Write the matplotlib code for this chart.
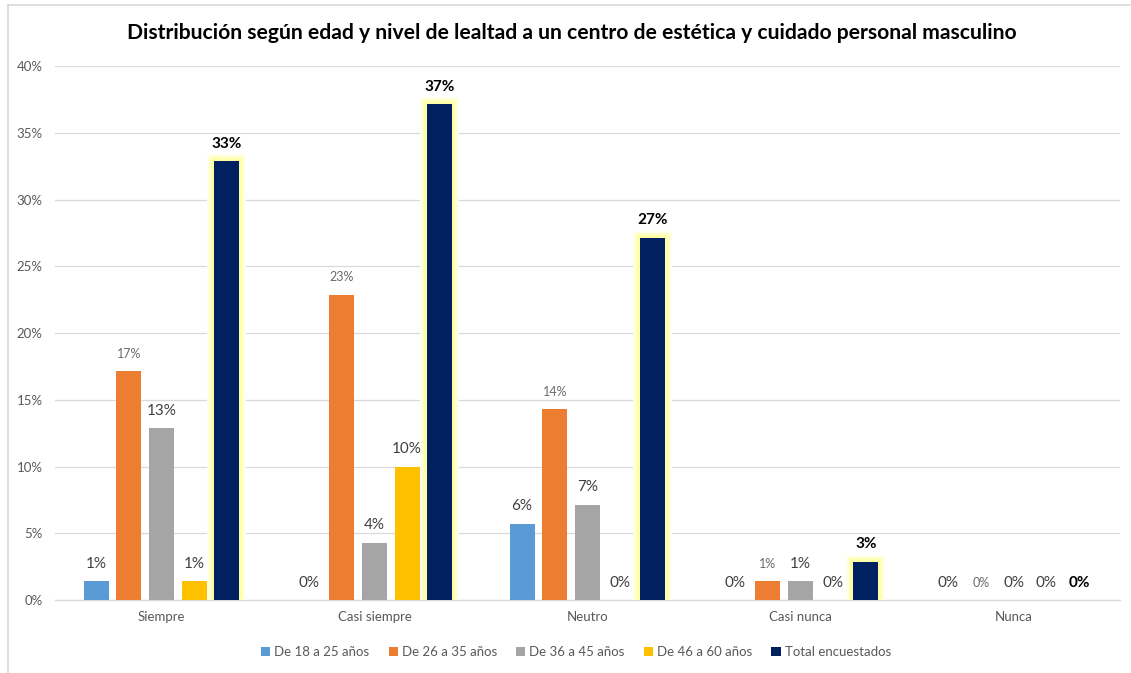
import matplotlib
matplotlib.use("Agg")
import matplotlib.pyplot as plt
import matplotlib.patheffects as pe
from matplotlib.patches import Patch
from matplotlib.lines import Line2D
import numpy as np

plt.rcParams['font.family'] = ['Lato', 'DejaVu Sans']

categories = ["Siempre", "Casi siempre", "Neutro", "Casi nunca", "Nunca"]
series_names = ["De 18 a 25 años", "De 26 a 35 años", "De 36 a 45 años",
                "De 46 a 60 años", "Total encuestados"]
age_18_25 = [0.0143, 0.0, 0.0571, 0.0, 0.0]
age_26_35 = [0.1714, 0.2286, 0.1429, 0.0143, 0.0]
age_36_45 = [0.1286, 0.0429, 0.0714, 0.0143, 0.0]
age_46_60 = [0.0143, 0.1000, 0.0, 0.0, 0.0]
total = [0.3286, 0.3714, 0.2714, 0.0286, 0.0]
y_ticks = [0, 0.05, 0.10, 0.15, 0.20, 0.25, 0.30, 0.35, 0.40]

colors = ["#5B9BD5", "#ED7D31", "#A5A5A5", "#FFC000", "#002060"]
all_series = [age_18_25, age_26_35, age_36_45, age_46_60, total]

W, H = 1131, 673
fig = plt.figure(figsize=(W / 100, H / 100), dpi=100)
ax = fig.add_axes([55 / W, 1 - 600 / H, (1120 - 55) / W, (600 - 66) / H])

x = np.arange(len(categories))
step = 0.1535
width = 0.117
offsets = (np.arange(5) - 2) * step

# soft yellow halo around the total bars
glow = [pe.withStroke(linewidth=10, foreground="#FFFFEC"),
        pe.withStroke(linewidth=7.5, foreground="#FFFFD0"),
        pe.withStroke(linewidth=4.5, foreground="#FFFFA8"),
        pe.Normal()]

for i, (vals, col) in enumerate(zip(all_series, colors)):
    bars = ax.bar(x + offsets[i], vals, width=width, color=col, zorder=3,
                  label=series_names[i])
    if i == 4:
        for b in bars:
            if b.get_height() > 0:
                b.set_path_effects(glow)
    for b, v in zip(bars, vals):
        if i == 4:
            kw = dict(fontsize=11, fontweight="bold", color="#000000")
        elif i == 1:
            kw = dict(fontsize=9, color="#6B6B6B")
        else:
            kw = dict(fontsize=11, color="#404040")
        ax.annotate(f"{v * 100:.0f}%", (b.get_x() + b.get_width() / 2, v),
                    xytext=(0, 12.5), textcoords="offset points",
                    ha="center", va="center", zorder=5, **kw)

ax.set_xlim(-0.5, len(categories) - 0.5)
ax.set_ylim(0, 0.40)
ax.set_yticks(y_ticks)
ax.set_yticklabels([f"{t * 100:.0f}%" for t in y_ticks])
ax.set_xticks(x)
ax.set_xticklabels(categories)
ax.tick_params(axis="both", length=0, labelsize=9.5, colors="#595959")
ax.tick_params(axis="y", pad=9)
ax.tick_params(axis="x", pad=8)
ax.grid(axis="y", color="#D9D9D9", linewidth=0.9, zorder=0)
ax.set_axisbelow(True)
for s in ["top", "right", "left"]:
    ax.spines[s].set_visible(False)
ax.spines["bottom"].set_color("#D9D9D9")
ax.spines["bottom"].set_linewidth(0.9)

fig.text(572 / W, 1 - 33 / H,
         "Distribución según edad y nivel de lealtad a un centro de estética y cuidado personal masculino",
         ha="center", va="center", fontsize=15.2, fontweight="bold", color="#000000")

handles = [Patch(facecolor=c, edgecolor="none") for c in colors]
leg = fig.legend(handles, series_names, loc="center", bbox_to_anchor=(576 / W, 1 - 652 / H),
                 ncol=5, frameon=False, fontsize=9.5, handlelength=0.7, handleheight=0.7,
                 handletextpad=0.3, columnspacing=1.45)
for t in leg.get_texts():
    t.set_color("#595959")

# chart frame (left and top edges)
fig.add_artist(Line2D([8 / W, 8 / W], [0, 1 - 5 / H], transform=fig.transFigure,
                      color="#D9D9D9", linewidth=1.2))
fig.add_artist(Line2D([8 / W, 1], [1 - 5 / H, 1 - 5 / H], transform=fig.transFigure,
                      color="#D9D9D9", linewidth=1.2))

fig.savefig("out.png", dpi=100, facecolor="white")
